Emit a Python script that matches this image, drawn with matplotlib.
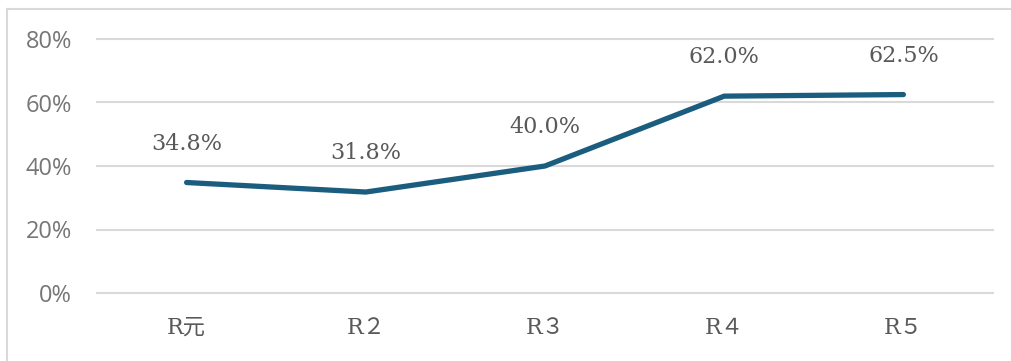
import matplotlib
matplotlib.use("Agg")
import matplotlib.pyplot as plt
from matplotlib.lines import Line2D

categories = ["R元", "R２", "R３", "R４", "R５"]
values = [34.8, 31.8, 40.0, 62.0, 62.5]
yticks = [0, 20, 40, 60, 80]

W, H = 1011, 361
fig = plt.figure(figsize=(W / 100, H / 100), dpi=100)
ax = fig.add_axes([97 / W, (H - 293) / H, (993 - 97) / W, (293 - 39) / H])

line_color = "#1b5d7f"
grid_color = "#d9d9d9"
text_color = "#595959"

x = list(range(len(categories)))
ax.plot(x, values, color=line_color, lw=3.8, solid_capstyle="round",
        solid_joinstyle="round", zorder=3)

for xi, v in zip(x, values):
    ax.annotate(f"{v:.1f}%", (xi, v), xytext=(0, 39), textcoords="offset pixels",
                ha="center", va="center", fontsize=16,
                family=["DejaVu Serif", "Noto Sans CJK JP"], color=text_color)

ax.set_xlim(-0.5, len(categories) - 0.5)
ax.set_ylim(0, 80)
ax.set_yticks(yticks)
ax.set_yticklabels([f"{t}%" for t in yticks], family="Open Sans",
                   fontsize=17, color="#767676")
ax.set_xticks(x)
ax.set_xticklabels(categories, family=["DejaVu Serif", "Noto Sans CJK JP"],
                   fontsize=16, color=text_color)
ax.tick_params(axis="y", length=0, pad=18)
ax.tick_params(axis="x", length=0, pad=17)

for t in yticks:
    ax.axhline(t, color=grid_color, lw=1.5, zorder=1, clip_on=False)
for s in ax.spines.values():
    s.set_visible(False)

# outer frame (top and left edges)
fig.add_artist(Line2D([7 / W, 1], [1 - 9 / H, 1 - 9 / H], color=grid_color, lw=1.5))
fig.add_artist(Line2D([7 / W, 7 / W], [0, 1 - 9 / H], color=grid_color, lw=1.5))

fig.savefig("out.png", dpi=100)
